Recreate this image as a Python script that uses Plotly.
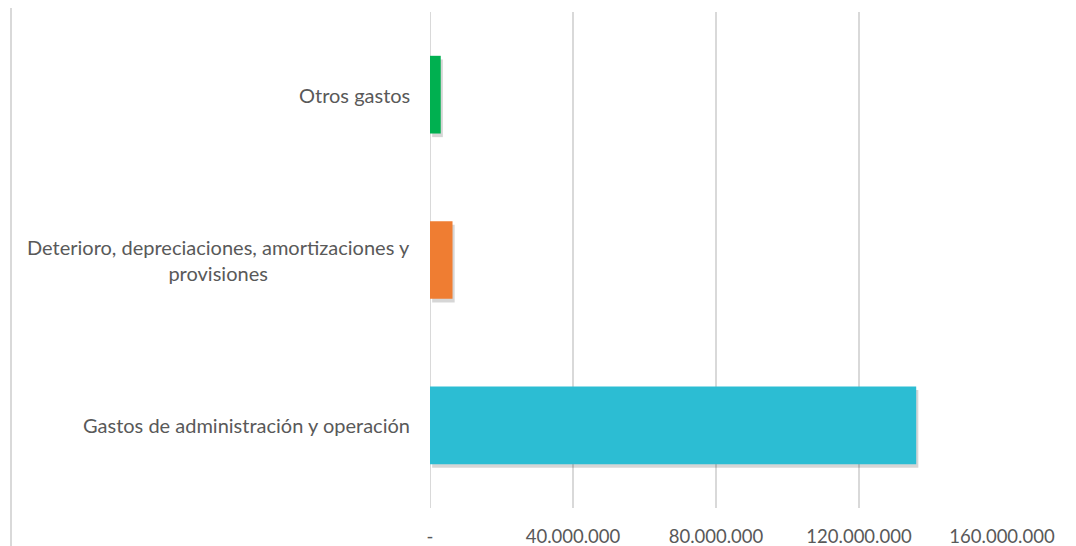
import plotly.graph_objects as go

categories = ["Gastos de administración y operación",
              "Deterioro, depreciaciones, amortizaciones y provisiones",
              "Otros gastos"]
label_text = ["Gastos de administración y operación",
              "Deterioro, depreciaciones, amortizaciones y<br>provisiones",
              "Otros gastos"]
values = [136000000, 6300000, 3000000]
bar_colors = ["#2CBDD3", "#EF7D32", "#00B050"]
tick_vals = [0, 40000000, 80000000, 120000000, 160000000]
tick_text = ["-", "40.000.000", "80.000.000", "120.000.000", "160.000.000"]

FONT = "Lato, 'Open Sans', sans-serif"
GRAY = "#595959"
BW = 0.47

fig = go.Figure()
# soft drop shadow
fig.add_trace(go.Bar(
    y=categories, x=values, orientation="h",
    base=[600000] * len(values),
    width=BW, offset=-BW / 2 - 0.022,
    marker=dict(color="rgba(0,0,0,0.16)", line=dict(width=0)),
    hoverinfo="skip", showlegend=False))
fig.add_trace(go.Bar(
    y=categories, x=values, orientation="h",
    width=BW, offset=-BW / 2,
    marker=dict(color=bar_colors, line=dict(width=0)),
    showlegend=False))

for cat, txt in zip(categories, label_text):
    fig.add_annotation(
        x=0, xref="paper", y=cat, yref="y",
        text=txt, showarrow=False, xanchor="right", yanchor="middle",
        align="center", xshift=-18,
        font=dict(family=FONT, size=20, color=GRAY))

fig.update_layout(
    width=1068, height=538,
    margin=dict(l=422, r=74, t=4, b=38, autoexpand=False),
    paper_bgcolor="white", plot_bgcolor="white",
    barmode="overlay",
    font=dict(family=FONT, size=18.5, color=GRAY),
    xaxis=dict(range=[0, 160000000], tickvals=tick_vals, ticktext=tick_text,
               showgrid=True, gridcolor="#D9D9D9", gridwidth=1.5,
               zeroline=False, showline=False, ticks="",
               automargin=False, ticklabelstandoff=15,
               tickfont=dict(family=FONT, size=18.5, color=GRAY)),
    yaxis=dict(categoryorder="array", categoryarray=categories,
               showticklabels=False, showgrid=False, zeroline=False,
               showline=False, ticks="", automargin=False),
    shapes=[dict(type="line", xref="x", yref="paper", x0=0, x1=0, y0=0, y1=1,
                 line=dict(color="#D9D9D9", width=2), layer="below")],
)
fig.add_shape(type="line", xref="paper", yref="paper",
              x0=-0.7325, x1=-0.7325, y0=-0.1, y1=1.1,
              line=dict(color="#D9D9D9", width=2))

fig.write_html("out.html")
